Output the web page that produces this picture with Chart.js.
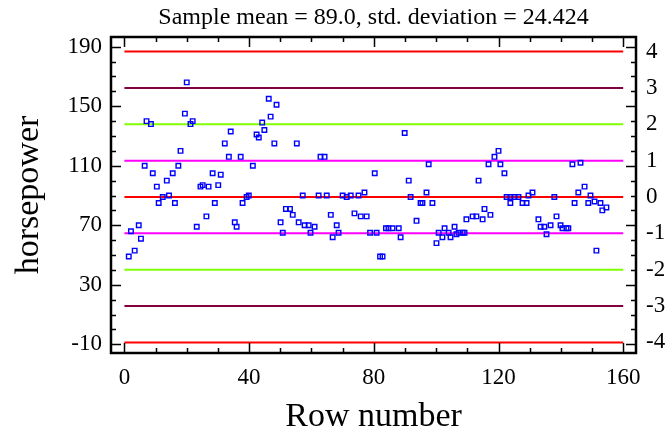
<!DOCTYPE html>
<html>
<head>
<meta charset="utf-8">
<script src="https://cdn.jsdelivr.net/npm/chart.js@4/dist/chart.umd.min.js"></script>
<style>
  html, body { margin: 0; padding: 0; background: #fff; }
  #wrap { width: 669px; height: 432px; }
</style>
</head>
<body>
<div id="wrap"><canvas id="c" width="669" height="432"></canvas></div>
<script>
'use strict'

const rowNum = [
  1.4, 2.1, 3.3, 4.6, 5.3, 6.5, 7.1, 8.5, 9.1, 10.4,
  11.0, 12.3, 13.6, 14.3, 15.5, 16.2, 17.3, 18.0, 19.4, 20.0,
  21.2, 21.9, 23.2, 24.4, 25.1, 26.3, 27.0, 28.3, 29.0, 30.1,
  30.9, 32.2, 33.5, 34.1, 35.4, 36.0, 37.3, 37.9, 39.2, 39.9,
  41.2, 42.4, 43.1, 44.2, 44.9, 46.3, 46.9, 48.1, 48.8, 50.1,
  50.8, 51.8, 53.1, 54.0, 55.3, 55.9, 57.2, 57.8, 59.1, 59.7,
  61.0, 62.3, 62.9, 64.2, 64.9, 66.2, 66.8, 68.1, 68.7, 70.0,
  71.3, 72.6, 73.8, 75.1, 75.8, 77.0, 77.7, 78.8, 80.3, 80.9,
  82.0, 82.8, 83.9, 84.7, 86.0, 88.0, 88.6, 89.9, 91.2, 91.8,
  93.7, 95.0, 95.6, 96.9, 97.6, 98.8, 100.1, 100.8, 102.0, 102.7,
  104.0, 104.6, 105.9, 106.5, 107.2, 108.5, 109.1, 109.7, 111.7, 112.9,
  113.6, 114.9, 115.5, 116.8, 117.4, 118.7, 120.0, 120.6, 121.9, 122.6,
  123.8, 123.8, 125.1, 126.4, 127.7, 129.0, 129.6, 130.9, 132.8, 133.5,
  134.7, 135.4, 136.7, 137.9, 138.6, 139.9, 140.5, 141.8, 142.4, 143.7,
  144.4, 145.6, 146.3, 147.6, 148.8, 149.5, 150.8, 151.4, 152.7, 153.3,
  154.6
];

// horsepower of each observation
const horsepower = [
  49, 66, 53, 70, 61, 110, 140, 138, 105, 96,
  85, 89, 100, 90, 105, 85, 110, 120, 145, 166,
  138, 140, 69, 96, 97, 76, 96, 105, 85, 97,
  104, 125, 116, 133, 72, 69, 116, 85, 89, 90,
  110, 131, 129, 139, 134, 155, 143, 125, 151, 72,
  65, 81, 81, 77, 125, 72, 90, 70, 70, 65,
  69, 90, 116, 116, 90, 77, 62, 70, 65, 90,
  89, 90, 78, 90, 76, 92, 76, 65, 105, 65,
  49, 49, 68, 68, 68, 68, 62, 132, 100, 89,
  73, 85, 85, 92, 111, 85, 58, 65, 62, 68,
  65, 62, 69, 64, 65, 65, 65, 74, 76, 76,
  100, 74, 81, 111, 77, 116, 120, 111, 105, 89,
  89, 85, 89, 89, 85, 85, 90, 92, 74, 69,
  69, 64, 70, 89, 76, 70, 68, 68, 68, 111,
  85, 92, 112, 96, 85, 90, 86, 53, 85, 80,
  82
];

const sampleMean = 89.0;
const stdDev = 24.424;

// control lines, in sigma units
const sigmaLevels = [4, 3, 2, 1, 0, -1, -2, -3, -4];
const sigmaColors = ['#ff0000', '#800040', '#80ff00', '#ff00ff', '#ff0000',
                     '#ff00ff', '#80ff00', '#800040', '#ff0000'];

const xTicks = [0, 40, 80, 120, 160];
const leftTicks = [190, 150, 110, 70, 30, -10];
const rightTicks = [4, 3, 2, 1, 0, -1, -2, -3, -4];

const yMin = -15.8, yMax = 196.5;
const FONT = 'Liberation Serif';

Chart.defaults.font.family = FONT;
Chart.defaults.color = '#000';

// points and control lines
const datasets = [];
datasets.push({
  label: 'horsepower',
  data: rowNum.map((r, i) => ({ x: r, y: horsepower[i] })),
  pointStyle: 'rect',
  pointRadius: 3.2,
  pointBorderWidth: 1.4,
  pointBorderColor: '#0000ff',
  pointBackgroundColor: 'rgba(0,0,0,0)',
  showLine: false,
  order: 0
});
sigmaLevels.forEach((k, i) => {
  const v = sampleMean + k * stdDev;
  datasets.push({
    label: 'sigma ' + k,
    data: [{ x: 0, y: v }, { x: 160, y: v }],
    showLine: true,
    borderColor: sigmaColors[i],
    borderWidth: 2,
    pointRadius: 0,
    order: 1
  });
});

// frame and inward tick marks
const framePlugin = {
  id: 'frame',
  afterDatasetsDraw(chart) {
    const { ctx, chartArea: a, scales } = chart;
    ctx.save();
    ctx.strokeStyle = '#000';
    ctx.lineWidth = 1.5;
    ctx.beginPath();
    for (let v = 0; v <= 160; v += 10) {
      const px = Math.round(scales.x.getPixelForValue(v)) + 0.5;
      const len = v % 40 === 0 ? 10 : 5;
      ctx.moveTo(px, a.bottom); ctx.lineTo(px, a.bottom - len);
      ctx.moveTo(px, a.top); ctx.lineTo(px, a.top + len);
    }
    for (let v = -10; v <= 190; v += 10) {
      const py = Math.round(scales.y.getPixelForValue(v)) + 0.5;
      const len = (v + 10) % 40 === 0 ? 10 : 5;
      ctx.moveTo(a.left, py); ctx.lineTo(a.left + len, py);
      ctx.moveTo(a.right, py); ctx.lineTo(a.right - len, py);
    }
    ctx.stroke();
    ctx.lineWidth = 2.5;
    ctx.strokeRect(a.left, a.top, a.right - a.left, a.bottom - a.top);
    ctx.restore();
  }
};

new Chart(document.getElementById('c'), {
  type: 'scatter',
  data: { datasets: datasets },
  plugins: [framePlugin],
  options: {
    responsive: false,
    animation: false,
    devicePixelRatio: 1,
    layout: { padding: 0 },
    plugins: {
      legend: { display: false },
      tooltip: { enabled: false },
      title: {
        display: true,
        fullSize: false,
        text: 'Sample mean = 89.0, std. deviation = 24.424',
        font: { family: FONT, size: 24, weight: 'normal', lineHeight: 1.2 },
        color: '#000',
        padding: { top: 3, bottom: 5.2 }
      }
    },
    scales: {
      x: {
        type: 'linear',
        min: -4.3,
        max: 164.1,
        afterBuildTicks: s => { s.ticks = xTicks.map(v => ({ value: v })); },
        afterFit: s => { s.height = 79; },
        grid: { display: false, drawTicks: false },
        border: { display: false },
        ticks: { font: { size: 23 }, padding: 11, maxRotation: 0 },
        title: {
          display: true,
          text: 'Row number',
          font: { size: 34, lineHeight: 0.9 },
          padding: { top: 0, bottom: 0 }
        }
      },
      y: {
        type: 'linear',
        position: 'left',
        min: yMin,
        max: yMax,
        afterBuildTicks: s => { s.ticks = leftTicks.map(v => ({ value: v })); },
        afterFit: s => { s.width = 111; },
        grid: { display: false, drawTicks: false },
        border: { display: false },
        ticks: { font: { size: 23 }, padding: 9 },
        title: {
          display: true,
          text: 'horsepower',
          font: { size: 34, lineHeight: 1 },
          padding: { top: 12, bottom: 0 }
        }
      },
      y2: {
        type: 'linear',
        position: 'right',
        min: (yMin - sampleMean) / stdDev,
        max: (yMax - sampleMean) / stdDev,
        afterBuildTicks: s => { s.ticks = rightTicks.map(v => ({ value: v })); },
        afterFit: s => { s.width = 33; },
        grid: { display: false, drawTicks: false },
        border: { display: false },
        ticks: { font: { size: 23 }, padding: 10 }
      }
    }
  }
});
</script>
</body>
</html>
